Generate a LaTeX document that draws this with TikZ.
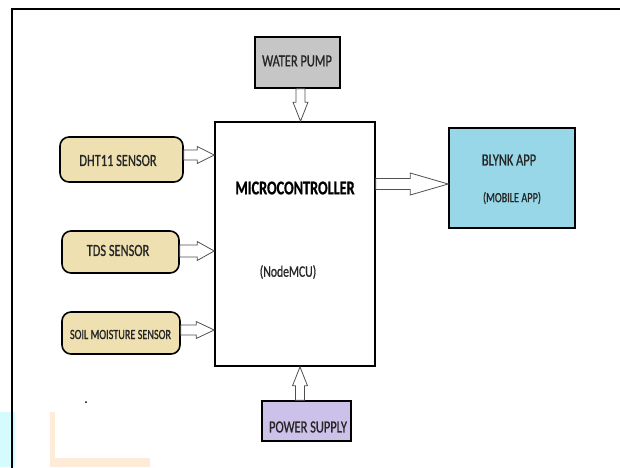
\documentclass[tikz,border=0pt]{standalone}
\usepackage{fontspec}
\setmainfont{Carlito}[FakeStretch=0.73, FakeBold=0.8]
\usetikzlibrary{calc}
\definecolor{pumpgray}{RGB}{198,198,198}
\definecolor{sensortan}{RGB}{238,224,176}
\definecolor{appblue}{RGB}{152,215,232}
\definecolor{powerlav}{RGB}{204,193,232}
\definecolor{wmcyan}{RGB}{212,252,255}
\definecolor{wmorange}{RGB}{255,236,216}
\definecolor{arrowgray}{RGB}{80,80,80}
\tikzset{
  box/.style={draw=black, line width=1.6pt, inner sep=0pt},
  sensor/.style={box, fill=sensortan, rounded corners=9pt},
  lbl/.style={inner sep=0pt, text=black!85, font=\fontsize{17}{20}\selectfont},
  small/.style={inner sep=0pt, text=black!85, font=\fontsize{14}{17}\selectfont},
  barrow/.style={draw=arrowgray, line width=0.8pt, fill=white, line join=miter},
  frame/.style={draw=black, line width=1.8pt}
}
\newcommand\blockarrow[5]{%
  \draw[barrow] let \p1=(#1), \p2=(#2),
      \n1={atan2(\y2-\y1,\x2-\x1)}, \n2={veclen(\x2-\x1,\y2-\y1)} in
    [shift={(\p1)}, rotate=\n1]
    (0pt,{#3*1pt}) -- ({(\n2-#5)*1pt},{#3*1pt}) -- ({(\n2-#5)*1pt},{#4*1pt})
    -- ({\n2*1pt},0pt) -- ({(\n2-#5)*1pt},{-#4*1pt}) -- ({(\n2-#5)*1pt},{-#3*1pt})
    -- (0pt,{-#3*1pt}) -- cycle;}
\begin{document}
\begin{tikzpicture}[x=1pt,y=-1pt]
\useasboundingbox (0,0) rectangle (620,467);
% watermark fragments
\fill[wmcyan] (0,412) rectangle (15,467);
\fill[wmorange] (50,412) rectangle (55,467);
\fill[wmorange] (50,458) rectangle (150,467);
% outer frame
\draw[frame] (12,480) -- (12,9) -- (640,9);
% dot
\fill[black] (86,402) circle (1pt);
% boxes
\node[box, fill=pumpgray, minimum width=85pt, minimum height=51pt] (wp) at (297.5,62.5) {};
\node[box, fill=white, minimum width=160pt, minimum height=244pt] (mc) at (295,244) {};
\node[sensor, minimum width=123pt, minimum height=45pt] (dht) at (121.5,159.5) {};
\node[sensor, minimum width=117pt, minimum height=42pt] (tds) at (120.5,252) {};
\node[sensor, minimum width=118pt, minimum height=42pt] (soil) at (121,333) {};
\node[box, fill=appblue, minimum width=126pt, minimum height=100pt] (blynk) at (512,178) {};
\node[box, fill=powerlav, minimum width=89pt, minimum height=40pt] (ps) at (306.5,421) {};
% labels
\node[lbl] (wpt) at (297,61) {WATER PUMP};
\node[inner sep=0pt, font=\fontsize{19.5}{22}\selectfont\bfseries] (mct) at (295,188) {MICROCONTROLLER};
\node[inner sep=0pt, text=black!85, font=\fontsize{16}{19}\selectfont] (mcu) at (288,272) {(NodeMCU)};
\node[lbl] (dhtt) at (118,160.5) {DHT11 SENSOR};
\node[lbl] (tdst) at (118,250.5) {TDS SENSOR};
\node[small] (soilt) at (120.5,334.5) {SOIL MOISTURE SENSOR};
\node[lbl] (blt) at (509,160) {BLYNK APP};
\node[small] (blm) at (512,198) {(MOBILE APP)};
\node[lbl] (pst) at (308,427) {POWER SUPPLY};
% connector anchor points
\coordinate (a1) at ($(dht.east)+(0,-4.5)$);
\coordinate (a2) at ($(tds.east)+(0,-1)$);
\coordinate (a3) at ($(soil.east)+(0,-3)$);
\coordinate (a4) at ($(blynk.west)+(0,6)$);
\coordinate (a5) at ($(wp.south)+(3,0)$);
\coordinate (a6) at ($(ps.north)+(-6.5,0)$);
% block arrows
\blockarrow{a1}{a1 -| mc.west}{5}{8.5}{17}
\blockarrow{a2}{a2 -| mc.west}{6}{9.5}{17}
\blockarrow{a3}{a3 -| mc.west}{5}{8.5}{18}
\blockarrow{a4 -| mc.east}{a4}{5.5}{11}{38}
\blockarrow{a5}{a5 |- mc.north}{4.5}{7.5}{19}
\blockarrow{a6}{a6 |- mc.south}{4.5}{7.5}{19}
\end{tikzpicture}
\end{document}
